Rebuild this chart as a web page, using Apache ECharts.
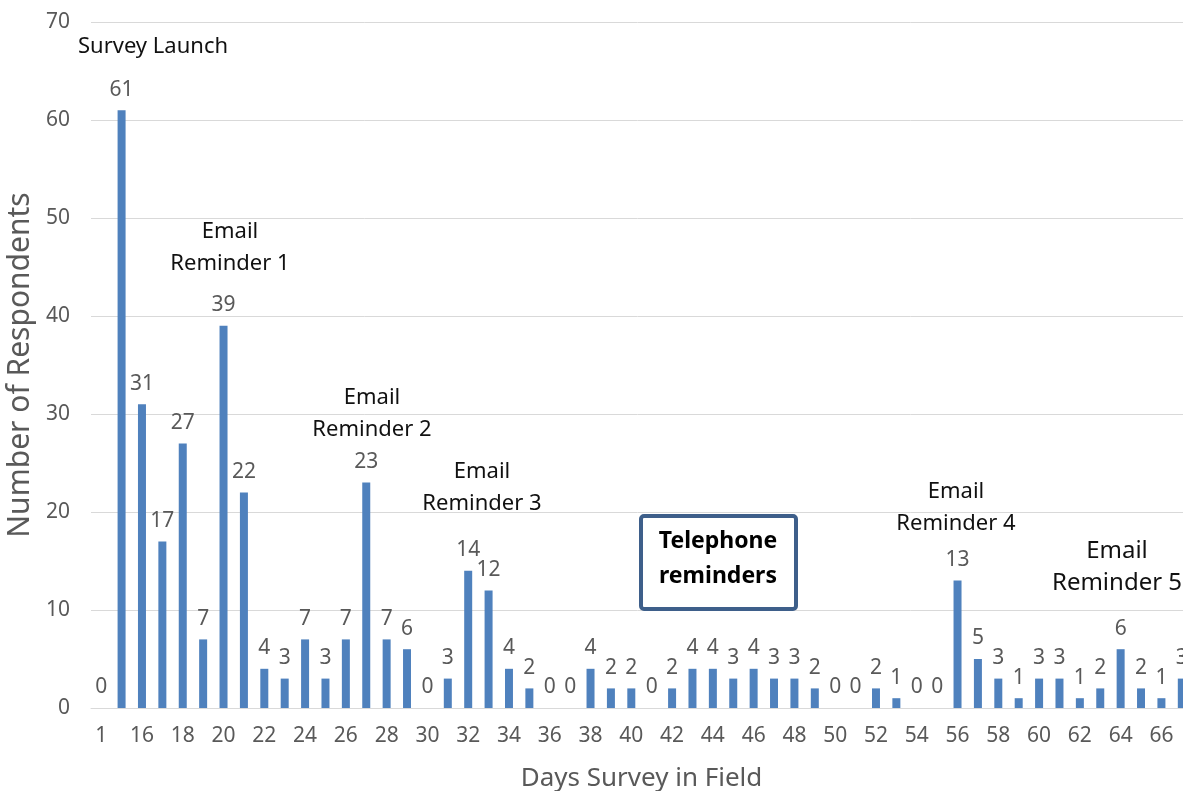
<!DOCTYPE html>
<html>
<head>
<meta charset="utf-8">
<script src="https://cdn.jsdelivr.net/npm/echarts@6/dist/echarts.min.js"></script>
<style>
  html, body { margin: 0; padding: 0; background: #fff; }
  #chart { width: 1183px; height: 791px; }
</style>
</head>
<body>
<div id="chart"></div>
<script>
// days in field (day 1, then 15..67)
const days = ['1', '15', '16', '17', '18', '19', '20', '21', '22', '23', '24', '25', '26', '27',
  '28', '29', '30', '31', '32', '33', '34', '35', '36', '37', '38', '39', '40', '41', '42', '43',
  '44', '45', '46', '47', '48', '49', '50', '51', '52', '53', '54', '55', '56', '57', '58', '59',
  '60', '61', '62', '63', '64', '65', '66', '67'];

// respondents per day
const respondents = [0, 61, 31, 17, 27, 7, 39, 22, 4, 3, 7, 3, 7, 23,
  7, 6, 0, 3, 14, 12, 4, 2, 0, 0, 4, 2, 2, 0, 2, 4,
  4, 3, 4, 3, 3, 2, 0, 0, 2, 1, 0, 0, 13, 5, 3, 1,
  3, 3, 1, 2, 6, 2, 1, 3];

const yTicks = [0, 10, 20, 30, 40, 50, 60, 70];

// annotation texts
const notes = [
  { lines: ['Survey Launch'], x: 153, y: 47, size: 22 },
  { lines: ['Email', 'Reminder 1'], x: 230, y: 232, size: 22 },
  { lines: ['Email', 'Reminder 2'], x: 372, y: 398, size: 22 },
  { lines: ['Email', 'Reminder 3'], x: 482, y: 472, size: 22 },
  { lines: ['Email', 'Reminder 4'], x: 956, y: 492, size: 22 },
  { lines: ['Email', 'Reminder 5'], x: 1117, y: 551, size: 24 }
];

const chart = echarts.init(document.getElementById('chart'));

const FONT = 'Noto Sans';
const graphics = [];
notes.forEach(n => {
  n.lines.forEach((t, i) => {
    graphics.push({
      type: 'text',
      x: n.x, y: n.y + i * 32,
      style: {
        text: t, fill: '#111', font: n.size + 'px "' + FONT + '"',
        textAlign: 'center', textVerticalAlign: 'middle'
      },
      z: 10
    });
  });
});
// telephone reminders box
graphics.push({
  type: 'rect',
  shape: { x: 641, y: 516, width: 155, height: 93, r: 3 },
  style: { fill: '#fff', stroke: '#3E5F8A', lineWidth: 4 },
  z: 9
});
['Telephone', 'reminders'].forEach((t, i) => {
  graphics.push({
    type: 'text',
    x: 718, y: 541 + i * 35,
    style: {
      text: t, fill: '#000', font: 'bold 23px "' + FONT + '"',
      textAlign: 'center', textVerticalAlign: 'middle'
    },
    z: 10
  });
});

chart.setOption({
  animation: false,
  textStyle: { fontFamily: FONT },
  grid: { left: 91, right: -9, top: 22, bottom: 83, containLabel: false, outerBoundsMode: 'none' },
  xAxis: {
    type: 'category',
    data: days,
    name: 'Days Survey in Field',
    nameLocation: 'middle',
    nameGap: 58,
    nameTextStyle: { fontSize: 26, color: '#595959' },
    axisLine: { lineStyle: { color: '#D9D9D9' } },
    axisTick: { show: false },
    axisLabel: { interval: 1, fontSize: 21, color: '#595959', margin: 18 }
  },
  yAxis: {
    type: 'value',
    min: yTicks[0],
    max: yTicks[yTicks.length - 1],
    interval: 10,
    name: 'Number of Respondents',
    nameLocation: 'middle',
    nameGap: 52,
    nameTextStyle: { fontSize: 30, color: '#595959' },
    axisLine: { show: false },
    axisTick: { show: false },
    axisLabel: { fontSize: 21, color: '#595959', margin: 21 },
    splitLine: { lineStyle: { color: '#D9D9D9' } }
  },
  series: [{
    type: 'bar',
    data: respondents,
    barWidth: 8,
    itemStyle: { color: '#4F81BD' },
    label: {
      show: true, position: 'top', distance: 10,
      fontSize: 21, color: '#595959'
    }
  }],
  graphic: graphics
});
</script>
</body>
</html>
